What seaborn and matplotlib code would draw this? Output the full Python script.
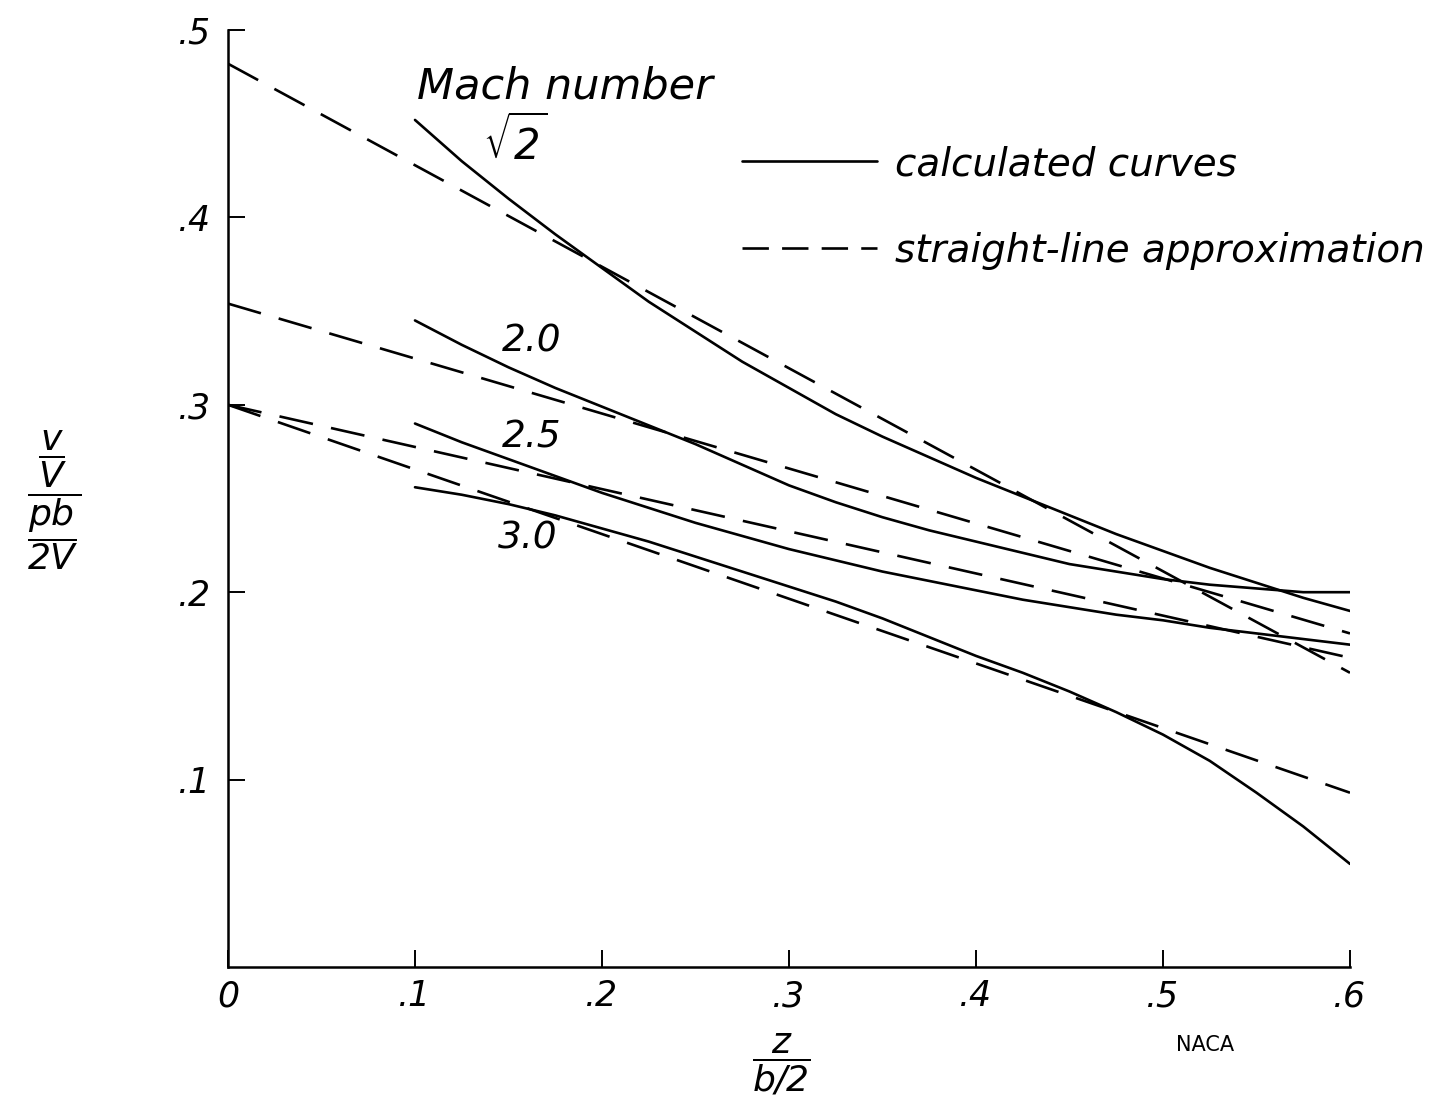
import matplotlib
matplotlib.use('Agg')
import numpy as np
import pandas as pd
import matplotlib.pyplot as plt
import seaborn as sns
from matplotlib.lines import Line2D
from matplotlib.ticker import FixedLocator, FixedFormatter

# ---------------- data ----------------
mach_labels = [r'$\sqrt{2}$', '2.0', '2.5', '3.0']

calc_x = [0.100, 0.125, 0.150, 0.175, 0.200, 0.225, 0.250, 0.275, 0.300, 0.325, 0.350,
          0.375, 0.400, 0.425, 0.450, 0.475, 0.500, 0.525, 0.550, 0.575, 0.600]
calc_sqrt2 = [0.452, 0.430, 0.410, 0.391, 0.373, 0.355, 0.339, 0.323, 0.309, 0.295, 0.283,
              0.272, 0.261, 0.251, 0.241, 0.231, 0.222, 0.213, 0.205, 0.197, 0.190]
calc_20 = [0.345, 0.332, 0.320, 0.309, 0.299, 0.289, 0.279, 0.268, 0.257, 0.248, 0.240,
           0.233, 0.227, 0.221, 0.215, 0.211, 0.207, 0.204, 0.202, 0.200, 0.200]
calc_25 = [0.290, 0.280, 0.271, 0.262, 0.253, 0.245, 0.237, 0.230, 0.223, 0.217, 0.211,
           0.206, 0.201, 0.196, 0.192, 0.188, 0.185, 0.181, 0.178, 0.175, 0.172]
calc_30 = [0.256, 0.252, 0.247, 0.241, 0.234, 0.227, 0.219, 0.211, 0.203, 0.195, 0.186,
           0.176, 0.166, 0.157, 0.147, 0.136, 0.124, 0.110, 0.093, 0.075, 0.055]

approx_x = [0.0, 0.6]
approx_sqrt2 = [0.482, 0.157]
approx_20 = [0.354, 0.178]
approx_25 = [0.300, 0.165]
approx_30 = [0.300, 0.093]

x_ticks = [0.0, 0.1, 0.2, 0.3, 0.4, 0.5, 0.6]
x_ticklabels = ['0', '.1', '.2', '.3', '.4', '.5', '.6']
y_ticks = [0.1, 0.2, 0.3, 0.4, 0.5]
y_ticklabels = ['.1', '.2', '.3', '.4', '.5']

legend_labels = ['calculated curves', 'straight-line approximation']

# ---------------- tidy tables ----------------
calc_series = [calc_sqrt2, calc_20, calc_25, calc_30]
approx_series = [approx_sqrt2, approx_20, approx_25, approx_30]
calc_df = pd.concat([pd.DataFrame({'x': calc_x, 'y': s, 'mach': m})
                     for s, m in zip(calc_series, mach_labels)], ignore_index=True)
approx_df = pd.concat([pd.DataFrame({'x': approx_x, 'y': s, 'mach': m})
                       for s, m in zip(approx_series, mach_labels)], ignore_index=True)

# ---------------- style ----------------
sns.set_theme(style='white')
plt.rcParams['font.family'] = ['DejaVu Sans']
plt.rcParams['font.style'] = 'oblique'
plt.rcParams['mathtext.fontset'] = 'dejavusans'
plt.rcParams['text.color'] = 'black'

fig = plt.figure(figsize=(14.55, 11.12), dpi=100)
ax = fig.add_axes([0.15670, 0.13040, 0.77113, 0.84263])

LW = 1.9
for m in mach_labels:
    sns.lineplot(data=calc_df[calc_df['mach'] == m], x='x', y='y', ax=ax,
                 color='black', linewidth=LW, linestyle='-', estimator=None, sort=False)
    sns.lineplot(data=approx_df[approx_df['mach'] == m], x='x', y='y', ax=ax,
                 color='black', linewidth=LW, linestyle=(0, (13, 7)), estimator=None, sort=False)

ax.set_xlim(0, 0.6)
ax.set_ylim(0, 0.5)
sns.despine(ax=ax)
for sp in ['left', 'bottom']:
    ax.spines[sp].set_linewidth(1.8)
    ax.spines[sp].set_color('black')

ax.xaxis.set_major_locator(FixedLocator(x_ticks))
ax.xaxis.set_major_formatter(FixedFormatter(x_ticklabels))
ax.yaxis.set_major_locator(FixedLocator(y_ticks))
ax.yaxis.set_major_formatter(FixedFormatter(y_ticklabels))
ax.tick_params(axis='both', which='major', direction='in', length=12, width=1.4,
               color='black', labelsize=25, labelcolor='black',
               bottom=True, left=True, top=False, right=False)
ax.tick_params(axis='x', pad=9)
ax.tick_params(axis='y', pad=12)

# axis labels
ax.set_xlabel(r'$\dfrac{z}{b/2}$', fontsize=26, color='black', va='center')
ax.xaxis.set_label_coords(0.4929, -0.104)
ax.set_ylabel(r'$\dfrac{\dfrac{v}{V}}{\dfrac{pb}{2V}}$', fontsize=26, color='black',
              rotation=0, ha='center', va='center')
ax.yaxis.set_label_coords(-0.155, 0.498)

# curve annotations
ax.text(0.1802, 0.4696, 'Mach number', fontsize=31, ha='center', va='center', color='black')
label_pos = [(0.1535, 0.4397), (0.1626, 0.334), (0.1626, 0.2828), (0.1604, 0.2284)]
label_size = [30, 27, 27, 27]
for lab, (tx, ty), fs in zip(mach_labels, label_pos, label_size):
    ax.text(tx, ty, lab, fontsize=fs, ha='center', va='center', color='black')

# legend
handles = [Line2D([], [], color='black', linewidth=LW, linestyle='-'),
           Line2D([], [], color='black', linewidth=LW, linestyle=(0, (10, 5)))]
fs_leg = 28
ax.legend(handles, legend_labels, loc='upper left',
          bbox_to_anchor=(742 / 1455, 1 - 145 / 1112), bbox_transform=fig.transFigure,
          frameon=False, fontsize=fs_leg, handlelength=135 / (fs_leg * 100 / 72),
          handletextpad=18 / (fs_leg * 100 / 72), labelspacing=1.25,
          borderpad=0, borderaxespad=0, labelcolor='black')

fig.text(1205 / 1455, 1 - 1045 / 1112, 'NACA', fontsize=15, ha='center', va='center',
         color='black', style='normal')

fig.savefig('out.png', dpi=100, facecolor='white')
